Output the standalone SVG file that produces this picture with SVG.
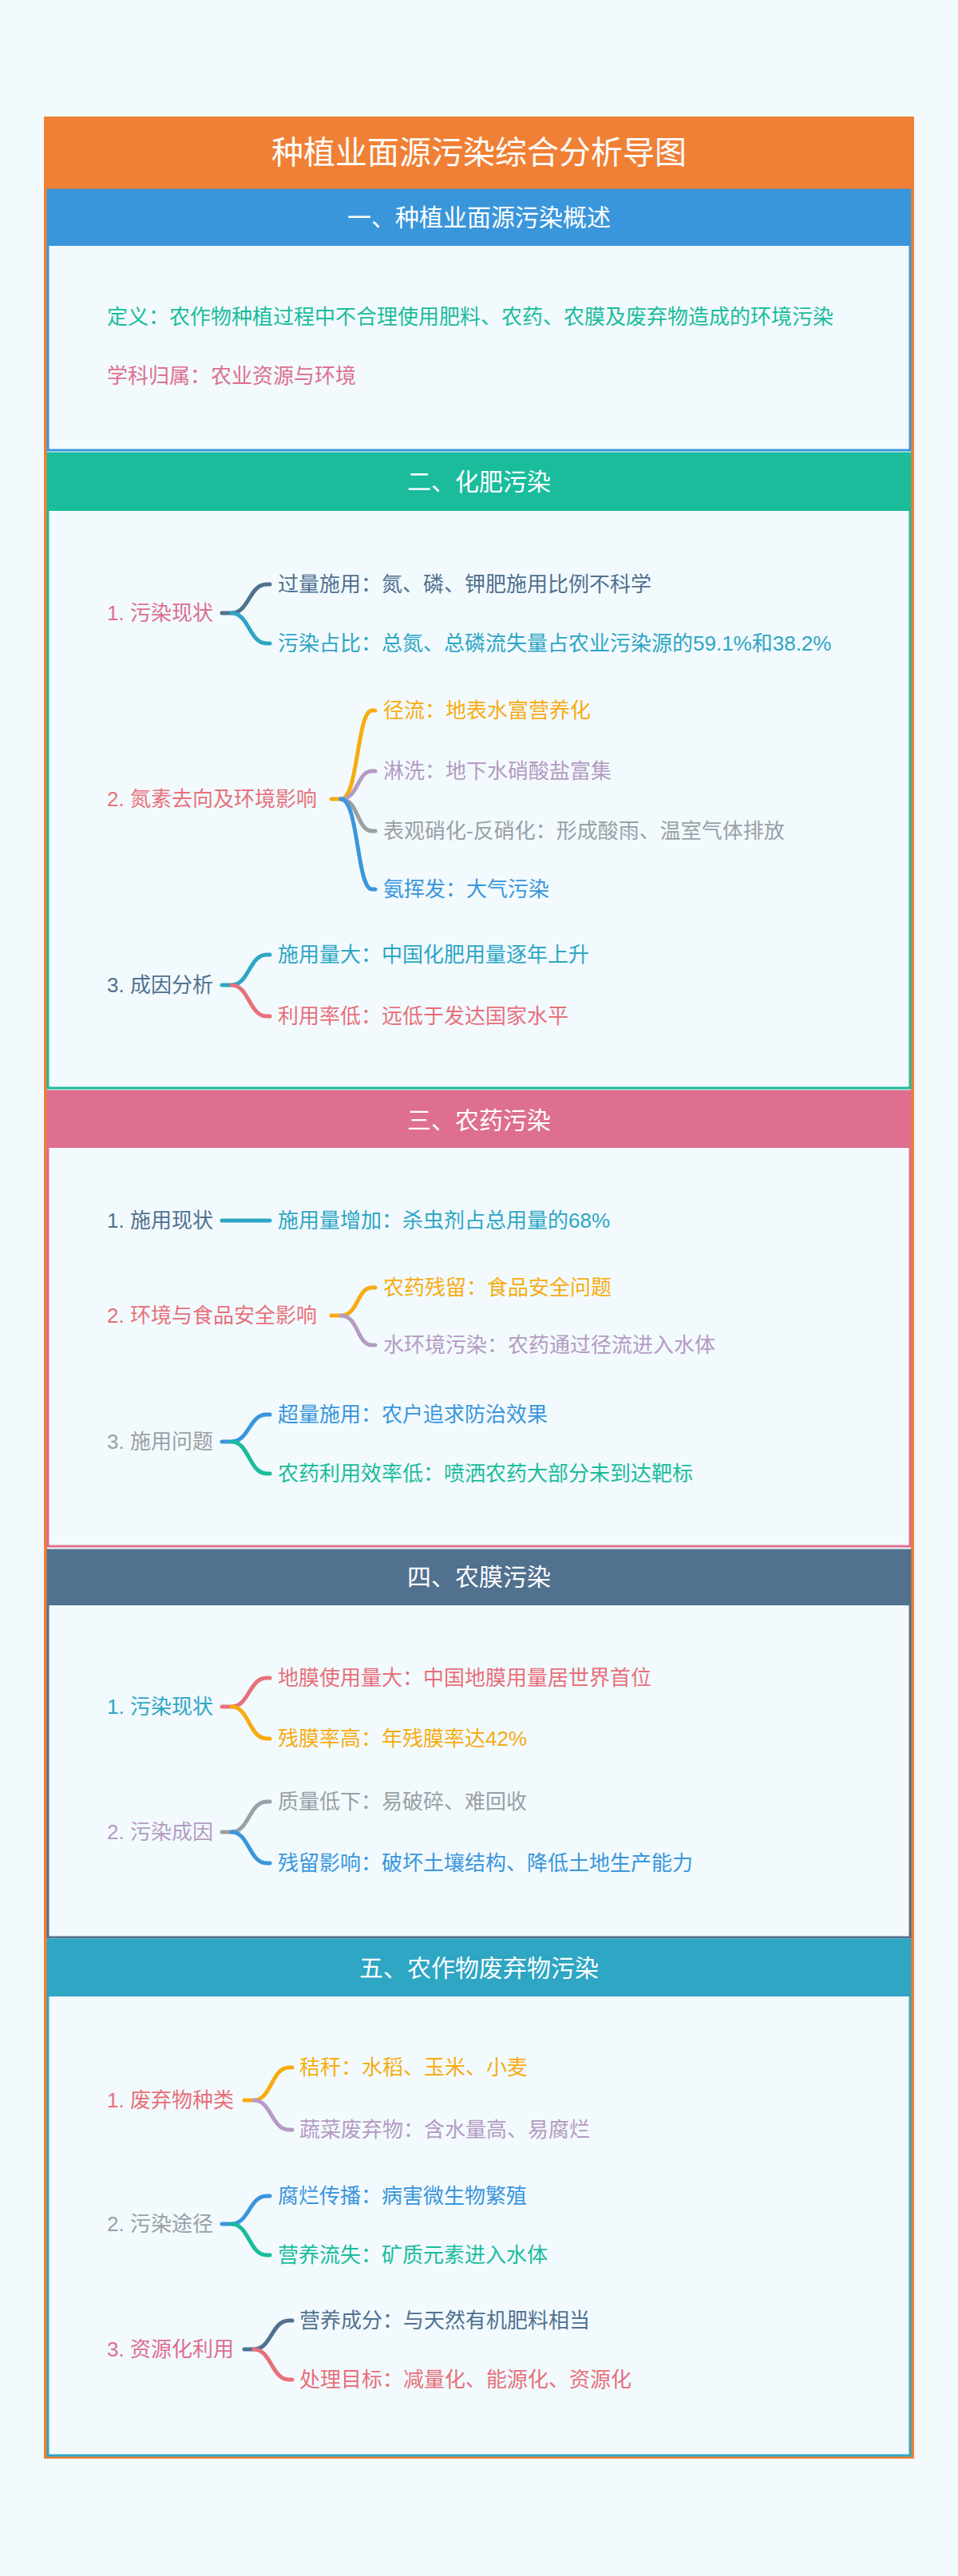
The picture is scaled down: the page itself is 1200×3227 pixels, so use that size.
<svg xmlns="http://www.w3.org/2000/svg" width="1200" height="3227" viewBox="0 0 1200 3227">
<style>
text{font-family:"Liberation Sans","Noto Sans CJK SC",sans-serif;font-size:26px;dominant-baseline:central}
.h{fill:#fff;font-size:30px;text-anchor:middle}
.t{fill:#fff;font-size:40px;text-anchor:middle}
.c path{fill:none;stroke-width:5;stroke-linecap:round}
.pk{fill:#DE6F8E}.tl{fill:#1ABC9C}.sl{fill:#51718F}.cy{fill:#2EA6C4}.rd{fill:#E8707A}.or{fill:#F7AC12}.lv{fill:#B59BC2}.gy{fill:#9AA0A6}.bl{fill:#3A96DB}
</style>
<rect width="1200" height="3227" fill="#F2FAFE"/>
<g id="frame">
<rect x="57" y="148" width="1086" height="2930" fill="#F2FAFE" stroke="#F08035" stroke-width="4"/>
<rect x="57" y="148" width="1086" height="89" fill="#F08035"/>
<text class="t" x="600" y="191">种植业面源污染综合分析导图</text>
</g>
<g id="sec1">
<rect x="60" y="238" width="1080" height="326" fill="#F2FAFE" stroke="#3A96DB" stroke-width="3"/>
<rect x="60" y="238" width="1080" height="70" fill="#3A96DB"/>
<text class="h" x="600" y="272">一、种植业面源污染概述</text>
<text class="tl" x="134" y="397">定义：农作物种植过程中不合理使用肥料、农药、农膜及废弃物造成的环境污染</text>
<text class="pk" x="134" y="471">学科归属：农业资源与环境</text>
</g>
<g id="sec2">
<rect x="60" y="568" width="1080" height="795" fill="#F2FAFE" stroke="#1ABC9C" stroke-width="3"/>
<rect x="60" y="568" width="1080" height="72" fill="#1ABC9C"/>
<text class="h" x="600" y="603">二、化肥污染</text>
<text class="pk" x="134" y="768">1. 污染现状</text>
<text class="sl" x="348" y="732">过量施用：氮、磷、钾肥施用比例不科学</text>
<text class="cy" x="348" y="806">污染占比：总氮、总磷流失量占农业污染源的59.1%和38.2%</text>
<text class="rd" x="134" y="1001">2. 氮素去向及环境影响</text>
<text class="or" x="480" y="890">径流：地表水富营养化</text>
<text class="lv" x="480" y="966">淋洗：地下水硝酸盐富集</text>
<text class="gy" x="480" y="1041">表观硝化-反硝化：形成酸雨、温室气体排放</text>
<text class="bl" x="480" y="1114">氨挥发：大气污染</text>
<text class="sl" x="134" y="1234">3. 成因分析</text>
<text class="cy" x="348" y="1196">施用量大：中国化肥用量逐年上升</text>
<text class="rd" x="348" y="1273">利用率低：远低于发达国家水平</text>
</g>
<g id="sec3">
<rect x="60" y="1367" width="1080" height="570" fill="#F2FAFE" stroke="#DE6F8E" stroke-width="3"/>
<rect x="60" y="1367" width="1080" height="71" fill="#DE6F8E"/>
<text class="h" x="600" y="1403">三、农药污染</text>
<text class="sl" x="134" y="1529">1. 施用现状</text>
<text class="cy" x="348" y="1529">施用量增加：杀虫剂占总用量的68%</text>
<text class="rd" x="134" y="1648">2. 环境与食品安全影响</text>
<text class="or" x="480" y="1613">农药残留：食品安全问题</text>
<text class="lv" x="480" y="1685">水环境污染：农药通过径流进入水体</text>
<text class="gy" x="134" y="1806">3. 施用问题</text>
<text class="bl" x="348" y="1772">超量施用：农户追求防治效果</text>
<text class="tl" x="348" y="1846">农药利用效率低：喷洒农药大部分未到达靶标</text>
</g>
<g id="sec4">
<rect x="60" y="1942" width="1080" height="485" fill="#F2FAFE" stroke="#51718F" stroke-width="3"/>
<rect x="60" y="1942" width="1080" height="69" fill="#51718F"/>
<text class="h" x="600" y="1975">四、农膜污染</text>
<text class="cy" x="134" y="2138">1. 污染现状</text>
<text class="rd" x="348" y="2102">地膜使用量大：中国地膜用量居世界首位</text>
<text class="or" x="348" y="2178">残膜率高：年残膜率达42%</text>
<text class="lv" x="134" y="2295">2. 污染成因</text>
<text class="gy" x="348" y="2257">质量低下：易破碎、难回收</text>
<text class="bl" x="348" y="2334">残留影响：破坏土壤结构、降低土地生产能力</text>
</g>
<g id="sec5">
<rect x="60" y="2430" width="1080" height="646" fill="#F2FAFE" stroke="#2EA6C4" stroke-width="3"/>
<rect x="60" y="2430" width="1080" height="71" fill="#2EA6C4"/>
<text class="h" x="600" y="2465">五、农作物废弃物污染</text>
<text class="rd" x="134" y="2631">1. 废弃物种类</text>
<text class="or" x="375" y="2590">秸秆：水稻、玉米、小麦</text>
<text class="lv" x="375" y="2668">蔬菜废弃物：含水量高、易腐烂</text>
<text class="gy" x="134" y="2786">2. 污染途径</text>
<text class="bl" x="348" y="2751">腐烂传播：病害微生物繁殖</text>
<text class="tl" x="348" y="2825">营养流失：矿质元素进入水体</text>
<text class="pk" x="134" y="2943">3. 资源化利用</text>
<text class="sl" x="375" y="2907">营养成分：与天然有机肥料相当</text>
<text class="rd" x="375" y="2981">处理目标：减量化、能源化、资源化</text>
</g>
<g id="connectors" class="c">
<path stroke="#51718F" d="M278 768 H290 C312 768 312 732 334 732 H338"/>
<path stroke="#2EA6C4" d="M290 768 C312 768 312 806 334 806 H338"/>
<path stroke="#F7AC12" d="M415 1001 H427 C449 1001 447 890 466 890 H470"/>
<path stroke="#B59BC2" d="M427 1001 C449 1001 447 966 466 966 H470"/>
<path stroke="#9AA0A6" d="M427 1001 C449 1001 447 1041 466 1041 H470"/>
<path stroke="#3A96DB" d="M427 1001 C449 1001 447 1114 466 1114 H470"/>
<path stroke="#2EA6C4" d="M278 1234 H290 C312 1234 312 1196 334 1196 H338"/>
<path stroke="#E8707A" d="M290 1234 C312 1234 312 1273 334 1273 H338"/>
<path stroke="#2EA6C4" d="M278 1529 H338"/>
<path stroke="#F7AC12" d="M415 1648 H427 C449 1648 447 1613 466 1613 H470"/>
<path stroke="#B59BC2" d="M427 1648 C449 1648 447 1685 466 1685 H470"/>
<path stroke="#3A96DB" d="M278 1806 H290 C312 1806 312 1772 334 1772 H338"/>
<path stroke="#1ABC9C" d="M290 1806 C312 1806 312 1846 334 1846 H338"/>
<path stroke="#E8707A" d="M278 2138 H290 C312 2138 312 2102 334 2102 H338"/>
<path stroke="#F7AC12" d="M290 2138 C312 2138 312 2178 334 2178 H338"/>
<path stroke="#9AA0A6" d="M278 2295 H290 C312 2295 312 2257 334 2257 H338"/>
<path stroke="#3A96DB" d="M290 2295 C312 2295 312 2334 334 2334 H338"/>
<path stroke="#F7AC12" d="M306 2631 H318 C340 2631 340 2590 362 2590 H366"/>
<path stroke="#B59BC2" d="M318 2631 C340 2631 340 2668 362 2668 H366"/>
<path stroke="#3A96DB" d="M278 2786 H290 C312 2786 312 2751 334 2751 H338"/>
<path stroke="#1ABC9C" d="M290 2786 C312 2786 312 2825 334 2825 H338"/>
<path stroke="#51718F" d="M306 2943 H318 C340 2943 340 2907 362 2907 H366"/>
<path stroke="#E8707A" d="M318 2943 C340 2943 340 2981 362 2981 H366"/>
</g>
</svg>
